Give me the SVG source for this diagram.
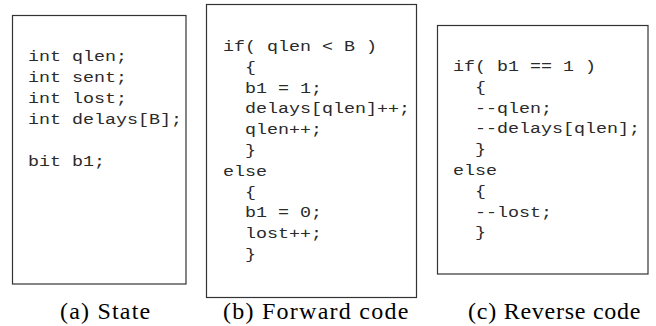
<svg xmlns="http://www.w3.org/2000/svg" width="656" height="326" viewBox="0 0 656 326">
  <style>
    .panel { fill: #ffffff; stroke: #333333; stroke-width: 1.2; }
    .code { font-family: "Liberation Mono", "DejaVu Sans Mono", monospace; font-size: 14px; fill: #2a2a2a; }
    .caption { font-family: "Liberation Serif", "Times New Roman", serif; font-size: 24px; fill: #000000; }
  </style>
  <rect width="656" height="326" fill="#ffffff"/>

  <!-- (a) state variables -->
  <g id="state">
    <rect class="panel" x="12.5" y="15.5" width="173.5" height="268.5"/>
    <g class="code" transform="translate(28,0) scale(1.31,1)">
      <text x="0" y="61">int qlen;</text>
      <text x="0" y="82">int sent;</text>
      <text x="0" y="103">int lost;</text>
      <text x="0" y="124">int delays[B];</text>
      <text x="0" y="166">bit b1;</text>
    </g>
    <text class="caption" x="60" y="319" letter-spacing="1.2">(a) State</text>
  </g>

  <!-- (b) forward event handler -->
  <g id="forward">
    <rect class="panel" x="206.5" y="4.5" width="210" height="293"/>
    <g class="code" transform="translate(223,0) scale(1.31,1)">
      <text x="0" y="51">if( qlen &lt; B )</text>
      <text x="16.8" y="71.8">{</text>
      <text x="16.8" y="92.6">b1 = 1;</text>
      <text x="16.8" y="113.4">delays[qlen]++;</text>
      <text x="16.8" y="134.2">qlen++;</text>
      <text x="16.8" y="155">}</text>
      <text x="0" y="175.8">else</text>
      <text x="16.8" y="196.6">{</text>
      <text x="16.8" y="217.4">b1 = 0;</text>
      <text x="16.8" y="238.2">lost++;</text>
      <text x="16.8" y="259">}</text>
    </g>
    <text class="caption" x="223" y="319" letter-spacing="1.25">(b) Forward code</text>
  </g>

  <!-- (c) reverse event handler -->
  <g id="reverse">
    <rect class="panel" x="437.5" y="25.5" width="210.5" height="248.5"/>
    <g class="code" transform="translate(453,0) scale(1.31,1)">
      <text x="0" y="71">if( b1 == 1 )</text>
      <text x="16.8" y="91.8">{</text>
      <text x="16.8" y="112.6">--qlen;</text>
      <text x="16.8" y="133.4">--delays[qlen];</text>
      <text x="16.8" y="154.2">}</text>
      <text x="0" y="175">else</text>
      <text x="16.8" y="195.8">{</text>
      <text x="16.8" y="216.6">--lost;</text>
      <text x="16.8" y="237.4">}</text>
    </g>
    <text class="caption" x="468" y="319" letter-spacing="0.75">(c) Reverse code</text>
  </g>

  <g id="connectors"/>
</svg>
